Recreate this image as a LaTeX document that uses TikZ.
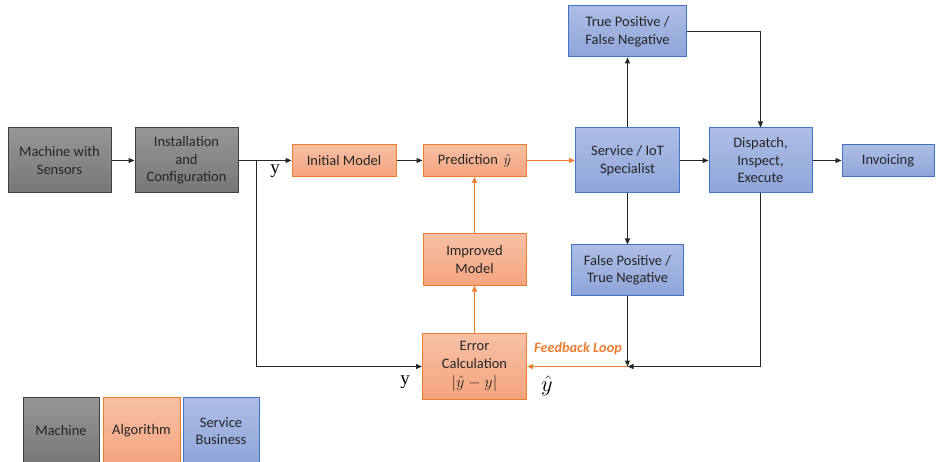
\RequirePackage{fix-cm}
\documentclass[tikz,border=0pt]{standalone}
\usepackage{fontspec}
\setmainfont{Carlito}
\newfontfamily\serify{Liberation Serif}
\usetikzlibrary{arrows.meta}
\definecolor{gborder}{HTML}{3F3F3F}
\definecolor{gtop}{HTML}{969696}
\definecolor{gbot}{HTML}{777777}
\definecolor{oborder}{HTML}{ED7D31}
\definecolor{otop}{HTML}{F8C0A4}
\definecolor{obot}{HTML}{F4A47E}
\definecolor{bborder}{HTML}{4472C4}
\definecolor{btop}{HTML}{ADBDE5}
\definecolor{bbot}{HTML}{8FA5D9}
\definecolor{txt}{HTML}{262626}
\tikzset{
  base/.style={draw, line width=1pt, align=center, text=txt, inner sep=2pt,
    font=\fontsize{14.5}{17.5}\selectfont},
  gbox/.style={base, draw=gborder, top color=gtop, bottom color=gbot},
  obox/.style={base, draw=oborder, top color=otop, bottom color=obot},
  bbox/.style={base, draw=bborder, top color=btop, bottom color=bbot},
  arr/.style={line width=1.1pt, draw=black!85, -{Triangle[length=6pt,width=5pt]}},
  oarr/.style={line width=1.1pt, draw=oborder, -{Triangle[length=6pt,width=5pt]}},
  lbl/.style={inner sep=0pt}
}
\begin{document}
\begin{tikzpicture}[x=1pt,y=-1pt]
\useasboundingbox[fill=white] (0,0) rectangle (936,462);
% machine
\node[gbox, minimum width=103pt, minimum height=65pt] (m) at (59.5,160.5) {Machine with\\Sensors};
\node[gbox, minimum width=103pt, minimum height=65pt] (inst) at (186.5,160.5) {Installation\\and\\Configuration};
% algorithm
\node[obox, minimum width=104pt, minimum height=32pt] (init) at (344,160.5) {Initial Model};
\node[obox, minimum width=103pt, minimum height=32pt] (pred) at (474.5,160.5) {Prediction\ \,$\hat{y}$};
\node[obox, minimum width=103pt, minimum height=51pt] (imp) at (474.5,259.5) {Improved\\Model};
\node[obox, minimum width=104pt, minimum height=66pt] (err) at (474.5,366.5) {Error\\Calculation\\[2pt]\scalebox{1.12}{$|\hat{y}-y|$}};
% service
\node[bbox, minimum width=104pt, minimum height=65pt] (svc) at (627.5,160.5) {Service / IoT\\Specialist};
\node[bbox, minimum width=118pt, minimum height=51pt] (tp) at (627.5,31.5) {True Positive /\\False Negative};
\node[bbox, minimum width=112pt, minimum height=50pt] (fp) at (627.5,270) {False Positive /\\True Negative};
\node[bbox, minimum width=103pt, minimum height=65pt] (disp) at (760.5,160.5) {Dispatch,\\Inspect,\\Execute};
\node[bbox, minimum width=92pt, minimum height=32pt] (inv) at (888,160.5) {Invoicing};
% legend
\node[gbox, minimum width=76pt, minimum height=68pt] (lm) at (61,431) {Machine};
\node[obox, minimum width=77pt, minimum height=68pt] (la) at (141.5,431) {Algorithm};
\node[bbox, minimum width=76pt, minimum height=68pt] (ls) at (221,431) {Service\\Business};
% coordinates
\coordinate (br) at (256.5,160.5);
\coordinate (fb) at (627.5,366.5);
% connectors
\draw[arr] (m) -- (inst);
\draw[arr] (inst.east) -- (init.west);
\draw[arr] (br) |- (err.west);
\draw[arr] (init) -- (pred);
\draw[oarr] (pred) -- (svc);
\draw[oarr] (err) -- (imp);
\draw[oarr] (imp) -- (pred);
\draw[arr] (svc) -- (tp);
\draw[arr] (svc) -- (fp);
\draw[arr] (tp.east) -| (disp.north);
\draw[arr] (svc) -- (disp);
\draw[arr] (disp) -- (inv);
\draw[arr] (fp.south) -- (fb);
\draw[arr] (disp.south) |- (fb);
\draw[oarr] (fb) -- (err.east);
% labels
\node[lbl, font=\serify\fontsize{19}{19}\selectfont] (ly1) at (275,171) {y};
\node[lbl, font=\serify\fontsize{19}{19}\selectfont] (ly2) at (405,382) {y};
\node[lbl, font=\fontsize{18}{18}\selectfont] (lyh) at (547,386) {\scalebox{1.25}{$\hat{y}$}};
\node[lbl, text=oborder, font=\fontsize{14.3}{14.3}\selectfont\bfseries\itshape] (lfb) at (578,349) {Feedback Loop};
\end{tikzpicture}
\end{document}
